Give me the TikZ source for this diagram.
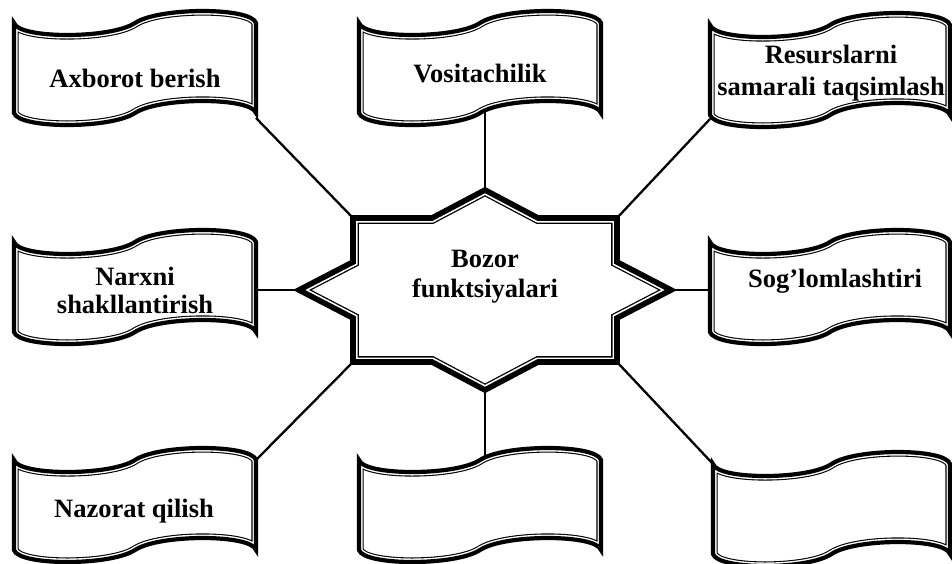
\documentclass[tikz,border=0pt]{standalone}
\usepackage{fontspec}
\setmainfont{Liberation Serif}
\begin{document}
\def\wk{16}
% wave banner path: L T R B (y grows downward)
\newcommand\wavepath[4]{(#1,#2) .. controls ({#1+0.02*(#3-#1)},{#2+\wk}) and ({#1+0.40*(#3-#1)},{#2+\wk}) .. ({0.5*(#1+#3)},#2)
 .. controls ({#1+0.60*(#3-#1)},{#2-\wk}) and ({#1+0.98*(#3-#1)},{#2-\wk}) .. (#3,#2)
 -- (#3,#4)
 .. controls ({#1+0.98*(#3-#1)},{#4-\wk}) and ({#1+0.60*(#3-#1)},{#4-\wk}) .. ({0.5*(#1+#3)},#4)
 .. controls ({#1+0.40*(#3-#1)},{#4+\wk}) and ({#1+0.02*(#3-#1)},{#4+\wk}) .. (#1,#4) -- cycle}
% thick-thin compound outline: #1 path macro, #2 thick half width, #3 gap end, #4 thin end
\newcommand\ttshape[4]{%
  \fill[white] #1;
  \begin{scope}\clip #1;
    \draw[line width=#4*2pt, line join=miter] #1;
    \draw[white, line width=#3*2pt, line join=miter] #1;
  \end{scope}
  \draw[line width=#2*2pt, line join=miter, miter limit=12] #1;}
\newcommand\banner[4]{\def\curpath{\wavepath{#1}{#2}{#3}{#4}}\ttshape{\curpath}{2.1}{3.5}{4.6}}
\begin{tikzpicture}[x=1pt, y=-1pt,
  lbl/.style={font=\bfseries\fontsize{26.5}{30}\selectfont, align=center, inner sep=0pt},
  conn/.style={line width=2.3pt}]
\useasboundingbox (0,0) rectangle (952,563);
\fill[white] (0,0) rectangle (952,563);
% star vertices
\coordinate (s-n) at (485,190);
\coordinate (s-n1) at (432,218);
\coordinate (s-nw) at (353,218);
\coordinate (s-w1) at (353,262);
\coordinate (s-w) at (299,290);
\coordinate (s-w2) at (353,318);
\coordinate (s-sw) at (353,362);
\coordinate (s-s1) at (432,362);
\coordinate (s-s) at (485,390);
\coordinate (s-s2) at (538,362);
\coordinate (s-se) at (617,362);
\coordinate (s-e2) at (617,318);
\coordinate (s-e) at (671,290);
\coordinate (s-e1) at (617,262);
\coordinate (s-ne) at (617,218);
\coordinate (s-n2) at (538,218);
% banner attachment points
\coordinate (b1-se) at (256,118);
\coordinate (b2-s) at (485,106);
\coordinate (b3-sw) at (710,119);
\coordinate (b4-e) at (254,290);
\coordinate (b5-w) at (712,290);
\coordinate (b6-ne) at (256,460);
\coordinate (b7-n) at (485,466);
\coordinate (b8-nw) at (713,464);
% connectors
\draw[conn] (b1-se) -- (s-nw);
\draw[conn] (b2-s) -- (s-n);
\draw[conn] (s-ne) -- (b3-sw);
\draw[conn] (b4-e) -- (s-w);
\draw[conn] (s-e) -- (b5-w);
\draw[conn] (s-sw) -- (b6-ne);
\draw[conn] (s-s) -- (b7-n);
\draw[conn] (s-se) -- (b8-nw);
% central star
\def\starpath{(s-n) -- (s-n1) -- (s-nw) -- (s-w1) -- (s-w) -- (s-w2) -- (s-sw) -- (s-s1) -- (s-s) -- (s-s2) -- (s-se) -- (s-e2) -- (s-e) -- (s-e1) -- (s-ne) -- (s-n2) -- cycle}
\ttshape{\starpath}{2.8}{4.5}{5.8}
% banners
\banner{14}{23}{256}{113}
\banner{359}{23}{601}{113}
\banner{710}{25}{950}{115}
\banner{14}{242}{256}{332}
\banner{710}{242}{950}{332}
\banner{14}{460}{256}{550}
\banner{359}{460}{601}{550}
\banner{713}{464}{950}{554}
% texts
\node[lbl, anchor=base] (t1) at (135,87) {Axborot berish};
\node[lbl, anchor=base] (t2) at (480,82) {Vositachilik};
\node[lbl, font=\bfseries\fontsize{26.5}{32}\selectfont] (t3) at (831,72.7) {Resurslarni\\samarali taqsimlash};
\node[lbl, font=\bfseries\fontsize{26.5}{28}\selectfont] (t4) at (135,290) {Narxni\\shakllantirish};
\node[lbl] (t0) at (485,276.7) {Bozor\\funktsiyalari};
\node[lbl, anchor=base] (t5) at (835,287) {Sog’lomlashtiri};
\node[lbl, anchor=base] (t6) at (134,517) {Nazorat qilish};
\end{tikzpicture}
\end{document}
